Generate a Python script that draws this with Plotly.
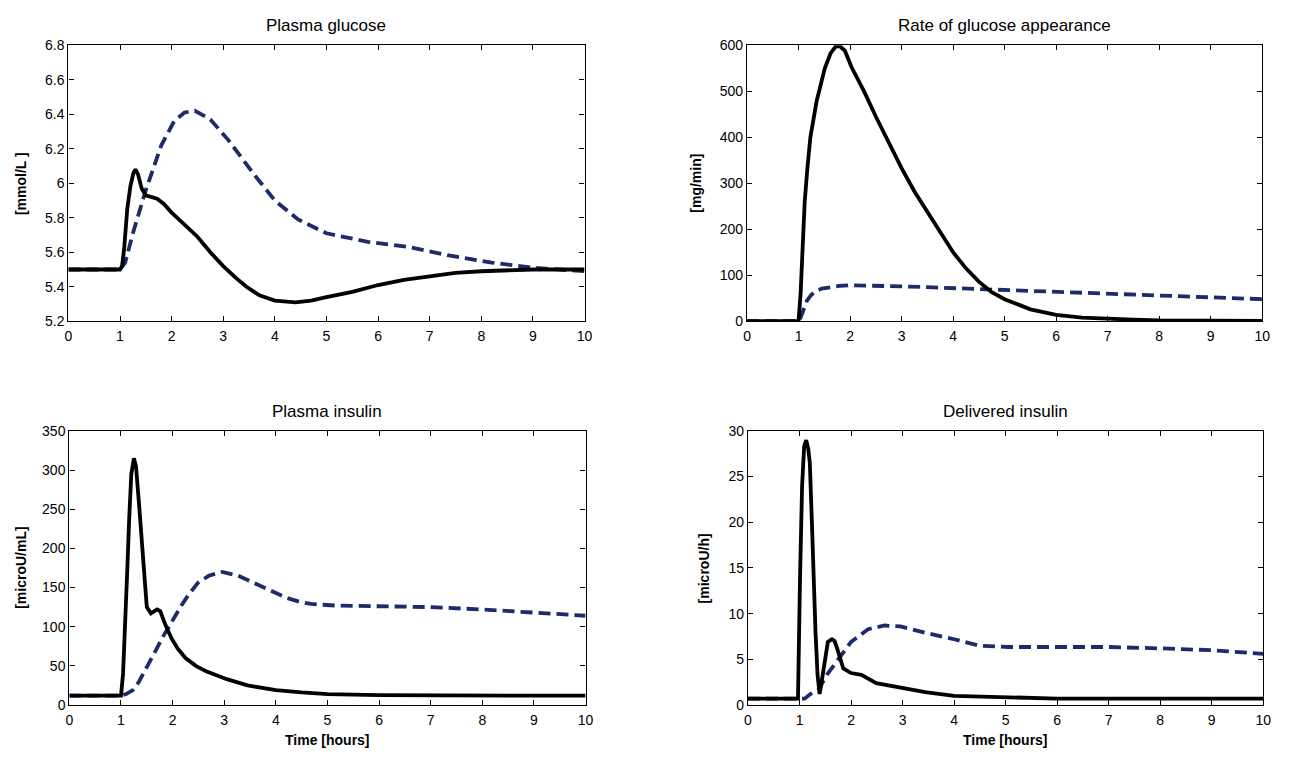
import plotly.graph_objects as go

# ---------------- data ----------------
# Plasma glucose [mmol/L]
pg_t_solid = [0, 1.0, 1.04, 1.08, 1.14, 1.2, 1.26, 1.3, 1.35, 1.42, 1.5, 1.6, 1.72, 1.85, 2.0, 2.25, 2.5, 2.75, 3.0, 3.25, 3.45, 3.7, 4.0, 4.4, 4.7, 5.0, 5.5, 6.0, 6.5, 7.0, 7.5, 8.0, 9.0, 10.0]
pg_v_solid = [5.5, 5.5, 5.52, 5.62, 5.85, 5.98, 6.06, 6.08, 6.05, 5.97, 5.93, 5.92, 5.91, 5.88, 5.83, 5.76, 5.69, 5.6, 5.52, 5.45, 5.40, 5.35, 5.32, 5.31, 5.32, 5.34, 5.37, 5.41, 5.44, 5.46, 5.48, 5.49, 5.5, 5.5]
pg_t_dash = [0, 1.0, 1.1, 1.25, 1.5, 1.8, 2.05, 2.25, 2.45, 2.75, 3.1, 3.6, 4.0, 4.45, 5.0, 5.8, 6.6, 7.4, 8.2, 9.0, 10.0]
pg_v_dash = [5.5, 5.5, 5.54, 5.71, 5.96, 6.22, 6.36, 6.41, 6.42, 6.37, 6.25, 6.05, 5.9, 5.79, 5.71, 5.66, 5.63, 5.58, 5.54, 5.51, 5.49]

# Rate of glucose appearance [mg/min]
ra_t_solid = [0, 1.0, 1.04, 1.08, 1.12, 1.17, 1.23, 1.35, 1.51, 1.62, 1.72, 1.8, 1.9, 2.03, 2.27, 2.5, 2.7, 3.0, 3.25, 3.5, 3.75, 4.0, 4.25, 4.5, 4.75, 5.0, 5.5, 6.0, 6.5, 7.0, 7.5, 8.0, 9.0, 10.0]
ra_v_solid = [0, 0, 60, 170, 260, 330, 400, 478, 550, 582, 597, 598, 588, 552, 500, 445, 400, 333, 282, 238, 193, 150, 115, 86, 63, 48, 26, 14, 8, 5, 3.5, 2, 1.5, 1]
ra_t_dash = [0, 1.0, 1.04, 1.1, 1.16, 1.23, 1.31, 1.45, 1.63, 1.8, 2.0, 2.5, 3.0, 3.5, 4.0, 4.5, 5.0, 6.0, 7.0, 8.0, 9.0, 10.0]
ra_v_dash = [0, 0, 8, 28, 44, 55, 64, 71, 75, 77, 78, 78, 76, 74, 72, 70, 67, 62, 58, 55, 51, 48]

# Plasma insulin [microU/mL]
pi_t_solid = [0, 1.0, 1.04, 1.08, 1.12, 1.16, 1.2, 1.25, 1.29, 1.35, 1.43, 1.5, 1.58, 1.7, 1.76, 1.85, 1.98, 2.1, 2.25, 2.45, 2.65, 3.05, 3.45, 4.0, 4.5, 5.0, 6.0, 7.0, 8.0, 9.0, 10.0]
pi_v_solid = [12, 12, 40, 95, 170, 240, 295, 315, 305, 256, 181, 125, 117, 122, 120, 104, 85, 72, 60, 50, 43, 33, 25, 19, 16, 14, 12.5, 12, 12, 12, 12]
pi_t_dash = [0, 1.0, 1.1, 1.23, 1.35, 1.47, 1.6, 1.7, 1.82, 1.94, 2.05, 2.17, 2.3, 2.49, 2.7, 2.96, 3.27, 3.5, 3.74, 4.0, 4.2, 4.45, 4.68, 5.15, 6.0, 7.0, 8.0, 9.0, 10.0]
pi_v_dash = [12, 12, 14, 19, 30, 44, 60, 73, 88, 102, 115, 127, 140, 156, 165, 170, 165, 158, 150, 143, 137, 132, 129, 127, 126, 125, 122, 118, 114]

# Delivered insulin [microU/h]
di_t_solid = [0, 0.97, 1.01, 1.05, 1.09, 1.13, 1.17, 1.2, 1.24, 1.27, 1.31, 1.35, 1.39, 1.45, 1.5, 1.55, 1.63, 1.68, 1.73, 1.79, 1.85, 2.0, 2.2, 2.49, 2.96, 3.44, 4.0, 5.04, 6.0, 7.0, 8.0, 9.0, 10.0]
di_v_solid = [0.7, 0.7, 14, 24, 28.3, 29, 28, 26.5, 20, 14, 8, 3.3, 1.2, 3.3, 5.5, 6.9, 7.2, 7.0, 6.2, 5.0, 4.0, 3.5, 3.3, 2.4, 1.9, 1.4, 1.0, 0.8, 0.7, 0.7, 0.7, 0.7, 0.7]
di_t_dash = [0, 1.1, 1.21, 1.37, 1.53, 1.77, 2.0, 2.33, 2.65, 2.96, 3.44, 4.0, 4.48, 5.04, 6.0, 7.0, 8.0, 9.0, 10.0]
di_v_dash = [0.7, 0.7, 1.2, 1.7, 3.3, 5.1, 6.9, 8.3, 8.7, 8.6, 7.9, 7.2, 6.5, 6.35, 6.35, 6.35, 6.2, 6.0, 5.6]

titles = ["Plasma glucose", "Rate of glucose appearance", "Plasma insulin", "Delivered insulin"]
ylabels = ["[mmol/L ]", "[mg/min]", "[microU/mL]", "[microU/h]"]
xlabel = "Time [hours]"
y_ranges = [[5.2, 6.8], [0, 600], [0, 350], [0, 30]]
y_dticks = [0.2, 100, 50, 5]

series = [
    (pg_t_solid, pg_v_solid, pg_t_dash, pg_v_dash),
    (ra_t_solid, ra_v_solid, ra_t_dash, ra_v_dash),
    (pi_t_solid, pi_v_solid, pi_t_dash, pi_v_dash),
    (di_t_solid, di_v_solid, di_t_dash, di_v_dash),
]

# ---------------- layout ----------------
W, H = 1289, 760
x_domains = [[65 / W, 586 / W], [750 / W, 1270 / W], [66 / W, 587 / W], [751 / W, 1271 / W]]
y_domains = [[1 - 320 / H, 1 - 38 / H], [1 - 320 / H, 1 - 38 / H], [1 - 712 / H, 1 - 432 / H], [1 - 712 / H, 1 - 432 / H]]
ylab_x = [17, 699, 17, 707]

DASH_COLOR = "#1d2b6b"
FONT = "Liberation Sans, Arial, sans-serif"

fig = go.Figure()
layout = dict(
    width=W, height=H,
    margin=dict(l=0, r=0, t=0, b=0),
    paper_bgcolor="white", plot_bgcolor="white",
    showlegend=False,
    font=dict(family=FONT, color="black", size=14),
)
annotations = []
for i in range(4):
    n = "" if i == 0 else str(i + 1)
    xa, ya = "x" + n, "y" + n
    ts, vs, td, vd = series[i]
    fig.add_trace(go.Scatter(x=td, y=vd, mode="lines", xaxis=xa, yaxis=ya,
                             line=dict(color=DASH_COLOR, width=3.8, dash="12px,6px")))
    fig.add_trace(go.Scatter(x=ts, y=vs, mode="lines", xaxis=xa, yaxis=ya,
                             line=dict(color="black", width=3.8)))
    axis_common = dict(showline=True, linecolor="black", linewidth=1.3, mirror="ticks",
                       ticks="inside", ticklen=5, tickcolor="black", tickwidth=1.3,
                       showgrid=False, zeroline=False,
                       tickfont=dict(family=FONT, size=14, color="black"))
    layout["xaxis" + n] = dict(domain=x_domains[i], range=[0, 10], dtick=1, tick0=0,
                               anchor=ya, ticklabelstandoff=2, **axis_common)
    layout["yaxis" + n] = dict(domain=y_domains[i], range=y_ranges[i], dtick=y_dticks[i],
                               tick0=0, anchor=xa, **axis_common)
    xc = (x_domains[i][0] + x_domains[i][1]) / 2
    top_px = H * (1 - y_domains[i][1])
    annotations.append(dict(text=titles[i], x=xc, y=1 - (top_px - 20) / H, xref="paper", yref="paper",
                            showarrow=False, font=dict(family=FONT, size=17, color="black"),
                            xanchor="center", yanchor="middle"))
    ymid = (y_domains[i][0] + y_domains[i][1]) / 2
    annotations.append(dict(text="<b>" + ylabels[i] + "</b>", x=ylab_x[i] / W, y=ymid,
                            xref="paper", yref="paper", textangle=-90, showarrow=False,
                            font=dict(family=FONT, size=14, color="black"),
                            xanchor="center", yanchor="middle"))
    if i >= 2:
        annotations.append(dict(text="<b>" + xlabel + "</b>", x=xc, y=0, yshift=2,
                                xref="paper", yref="paper", showarrow=False,
                                font=dict(family=FONT, size=14, color="black"),
                                xanchor="center", yanchor="bottom"))
layout["annotations"] = annotations
fig.update_layout(**layout)
fig.write_html("out.html")
